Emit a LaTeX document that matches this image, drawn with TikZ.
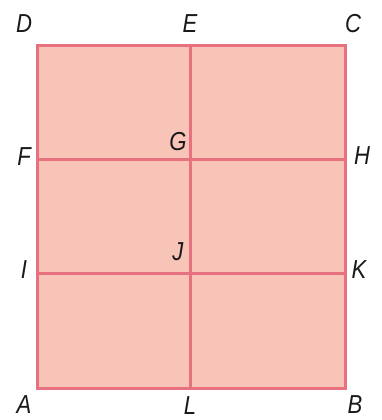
\documentclass[tikz,border=0pt]{standalone}
\usepackage{fontspec}
\newfontfamily\lblfont{Liberation Sans}[FakeStretch=0.85]
\definecolor{fillpink}{HTML}{F9C4B8}
\definecolor{edgepink}{HTML}{E8717F}
\tikzset{
  lbl/.style={inner sep=0pt, font=\lblfont\itshape\fontsize{26}{26}\selectfont, text=black!90},
  edge/.style={draw=edgepink, line width=3pt},
}
\begin{document}
\begin{tikzpicture}[x=1pt,y=-1pt]
\useasboundingbox (0,0) rectangle (382,420);
\coordinate (pA) at (37,388);
\coordinate (pB) at (345,388);
\coordinate (pC) at (345,46);
\coordinate (pD) at (37,46);
\coordinate (pE) at (190,46);
\coordinate (pL) at (190,388);
\coordinate (pF) at (37,159);
\coordinate (pH) at (345,159);
\coordinate (pI) at (37,273);
\coordinate (pK) at (345,273);
\fill[fillpink] (pA) rectangle (pC);
\draw[edge] (pE) -- (pL);
\draw[edge] (pF) -- (pH);
\draw[edge] (pI) -- (pK);
\draw[edge] (pA) -- (pB) -- (pC) -- (pD) -- cycle;
\node[lbl] (D) at (24,24) {D};
\node[lbl] (E) at (190,24) {E};
\node[lbl] (C) at (353,24) {C};
\node[lbl] (F) at (24,157) {F};
\node[lbl] (G) at (178,142) {G};
\node[lbl] (H) at (362,156) {H};
\node[lbl] (I) at (24,270) {I};
\node[lbl] (J) at (178,252) {J};
\node[lbl] (K) at (359,270) {K};
\node[lbl] (A) at (24,405) {A};
\node[lbl] (L) at (190,406) {L};
\node[lbl] (B) at (355,405) {B};
\end{tikzpicture}
\end{document}
